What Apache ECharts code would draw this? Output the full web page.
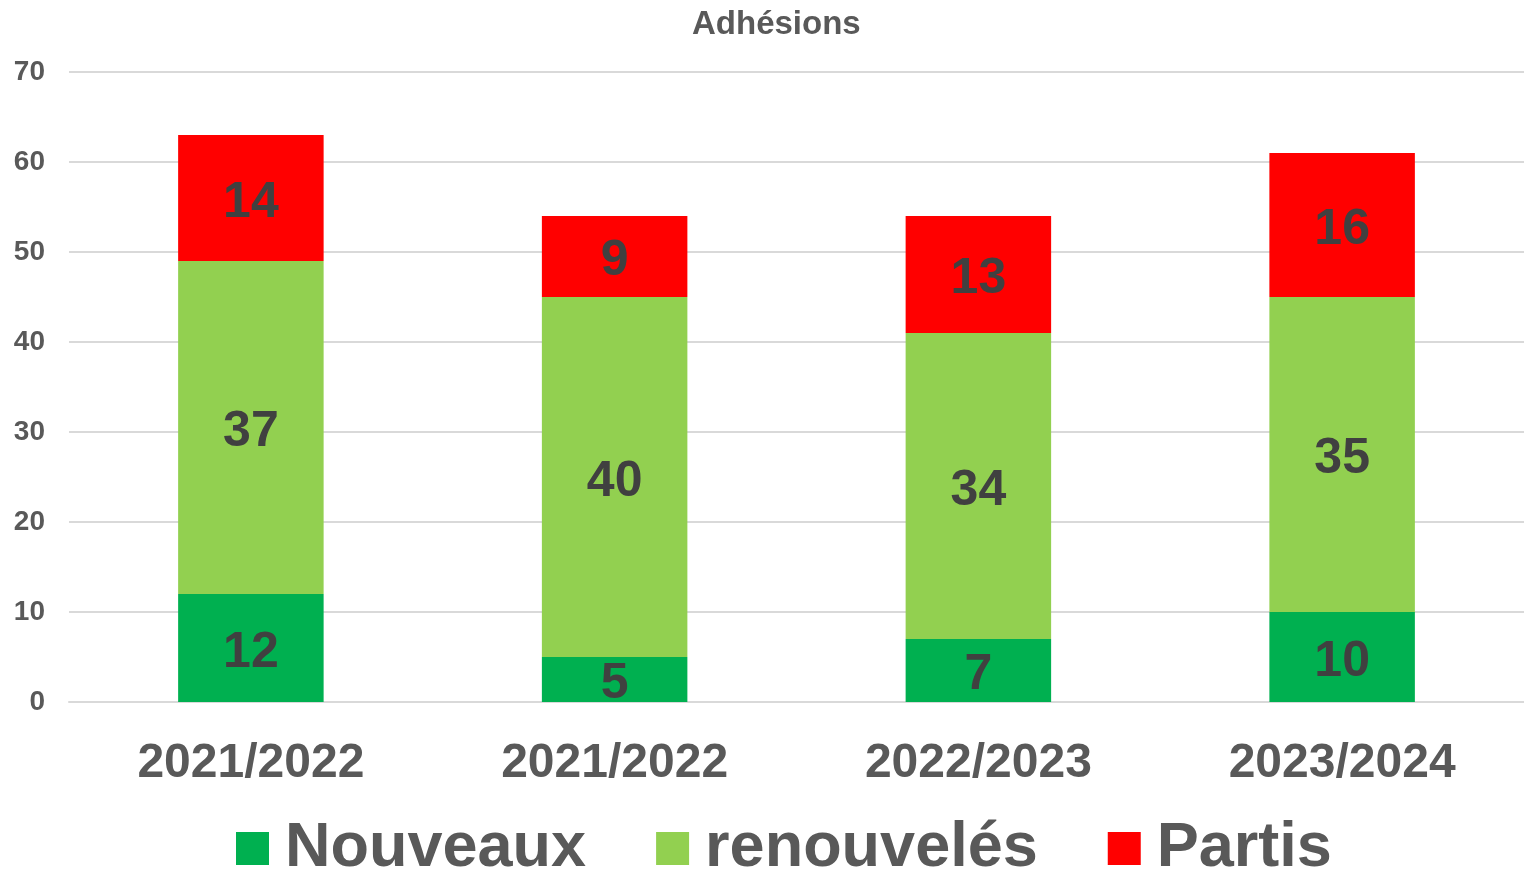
<!DOCTYPE html>
<html>
<head>
<meta charset="utf-8">
<script src="https://cdn.jsdelivr.net/npm/echarts@6/dist/echarts.min.js"></script>
<style>html,body{margin:0;padding:0;background:#fff}#c{width:1524px;height:871px}</style>
</head>
<body>
<div id="c"></div>
<script>
const categories = ['2021/2022', '2021/2022', '2022/2023', '2023/2024'];
const nouveaux = [12, 5, 7, 10];
const renouveles = [37, 40, 34, 35];
const partis = [14, 9, 13, 16];
const seriesNames = ['Nouveaux', 'renouvelés', 'Partis'];
const seriesColors = ['#00B050', '#92D050', '#FF0000'];
const yTicks = { min: 0, max: 70, interval: 10 };

const FONT = '"Liberation Sans", Arial, sans-serif';
const chart = echarts.init(document.getElementById('c'), null, { renderer: 'canvas' });
const labelStyle = {
  show: true, position: 'inside', offset: [0, 5], color: '#404040',
  fontSize: 50, fontWeight: 'bold', fontFamily: FONT
};
function mk(name, data, color) {
  return {
    name, type: 'bar', stack: 'a', data, barWidth: '40%',
    itemStyle: { color }, label: labelStyle, emphasis: { disabled: true }
  };
}
chart.setOption({
  animation: false,
  backgroundColor: '#fff',
  title: {
    text: 'Adhésions', left: 687, top: 3,
    textStyle: { fontSize: 33, fontWeight: 'bold', color: '#595959', fontFamily: FONT }
  },
  legend: {
    left: 236, top: 817, itemWidth: 33, itemHeight: 33, itemGap: 70, padding: 0,
    icon: 'rect',
    textStyle: { fontSize: 63, fontWeight: 'bold', color: '#595959', fontFamily: FONT, padding: [0, 0, 0, 11] },
    data: seriesNames
  },
  grid: { left: 69, right: 0, top: 72, bottom: 169, containLabel: false },
  xAxis: {
    type: 'category', data: categories,
    axisLine: { lineStyle: { color: '#D9D9D9', width: 2 } },
    axisTick: { show: false },
    axisLabel: { margin: 38, fontSize: 48, fontWeight: 'bold', color: '#595959', fontFamily: FONT }
  },
  yAxis: {
    type: 'value', min: yTicks.min, max: yTicks.max, interval: yTicks.interval,
    axisLine: { show: false }, axisTick: { show: false },
    splitLine: { lineStyle: { color: '#D9D9D9', width: 2 } },
    axisLabel: { margin: 24, fontSize: 28, fontWeight: 'bold', color: '#595959', fontFamily: FONT }
  },
  series: [
    mk(seriesNames[0], nouveaux, seriesColors[0]),
    mk(seriesNames[1], renouveles, seriesColors[1]),
    mk(seriesNames[2], partis, seriesColors[2])
  ]
});
</script>
</body>
</html>
